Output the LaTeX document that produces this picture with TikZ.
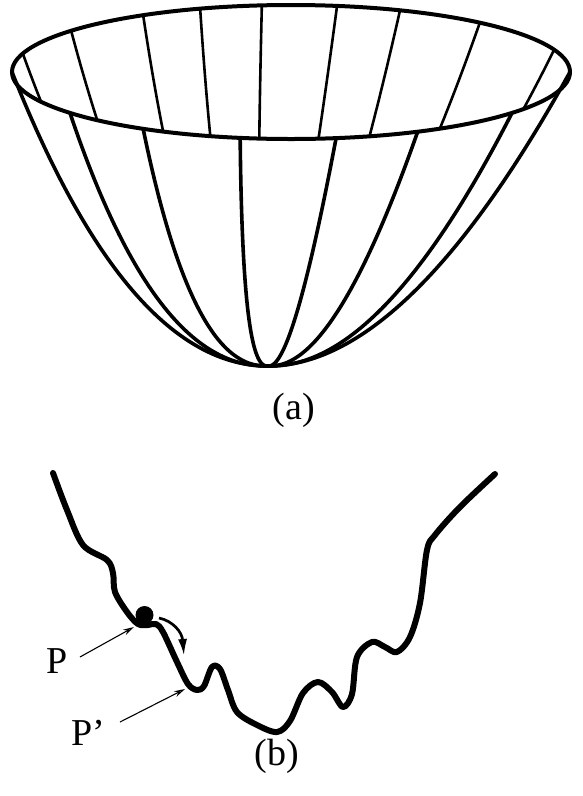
\documentclass[tikz,border=0pt]{standalone}
\usepackage{fontspec}
\setmainfont{Liberation Serif}
\usetikzlibrary{arrows.meta}
\begin{document}
\begin{tikzpicture}[x=1pt,y=-1pt,
  rimline/.style={line width=4pt},
  backrib/.style={line width=2.6pt},
  frontrib/.style={line width=3.6pt},
  landscape/.style={line width=6pt, line join=round, line cap=round},
  pointer/.style={line width=1.1pt, -{Stealth[open,length=11pt,width=6pt]}},
  lbl/.style={font=\fontsize{38}{44}\selectfont, inner sep=0pt}]
\useasboundingbox (0,0) rectangle (582,796);
% meridian macro
\newcommand{\meridian}[2]{\draw[#1] plot[domain=0:1, samples=60, variable=\r] ({268+23*\r*\r+279*\r*cos(#2)}, {366-294*\r*\r+67*(\r^1.6)*sin(#2)});}
% back ribs (inside of bowl)
\begin{scope}
  \clip (291,72) ellipse [x radius=279pt, y radius=67pt];
  \foreach \t in {196,218,238,251,264,279.5,293,312.6,340.6} {\meridian{backrib}{\t}}
\end{scope}
% front ribs and silhouettes
\foreach \t in {0,37.6,63,80.7,100.5,122,142.4,180} {\meridian{frontrib}{\t}}
% rim
\draw[rimline] (291,72) ellipse [x radius=279pt, y radius=67pt];
\node[lbl] (la) at (294,410) {(a)};
% (b) landscape
\draw[landscape] plot[smooth, tension=0.55] coordinates {
 (53,473) (67,510) (83,545) (107,560) (113,573) (115,592) (127,612) (138,624)
 (148,625) (156,624) (163,632) (177,662) (188,684) (197,690) (204,686) (212,667)
 (220,669) (228,690) (237,712) (257,725) (277,732) (290,721) (303,693) (318,682)
 (332,692) (343,707) (352,694) (357,657) (372,642) (385,647) (397,652) (410,637)
 (420,603) (427,550) (435,535) (460,507) (495,474)};
\node[circle, fill=black, inner sep=0pt, minimum size=18pt] (ball) at (144.5,615) {};
\coordinate (mvS) at (159,618);
\coordinate (mvE) at (184,656);
\draw[line width=2.7pt, -{Latex[length=17pt,width=9pt]}] (mvS) .. controls (173,621) and (182,632) .. (mvE);
\node[lbl, anchor=base west] (P) at (46,673) {P};
\node[lbl, anchor=base west] (Pp) at (71,745) {P’};
\coordinate (sP) at (80,657);
\coordinate (sPp) at (120,722);
\coordinate (tP) at (134,627);
\coordinate (tPp) at (185,689);
\draw[pointer] (sP) -- (tP);
\draw[pointer] (sPp) -- (tPp);
\node[lbl] (lb) at (277,756) {(b)};
\end{tikzpicture}
\end{document}
